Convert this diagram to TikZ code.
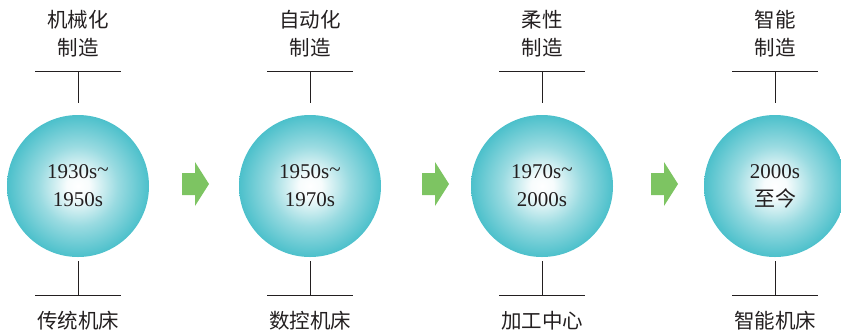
\documentclass[tikz,border=0pt]{standalone}
\usepackage{fontspec}
\setmainfont{Liberation Serif}
\newfontfamily\cjk{Noto Sans CJK SC}
\definecolor{tealedge}{HTML}{4CC0CB}
\definecolor{tealmid}{HTML}{9ADBE1}
\definecolor{arrowgreen}{HTML}{7DC462}
\definecolor{linegray}{HTML}{231F20}
\pgfdeclareradialshading{myball}{\pgfpoint{0bp}{0bp}}{color(0bp)=(white); color(4bp)=(white!92!tealmid); color(14bp)=(tealmid); color(25bp)=(tealedge); color(50bp)=(tealedge)}
\tikzset{
  ball/.style={circle, minimum size=142pt, inner sep=0pt, shading=myball, draw=none},
  yeartext/.style={font=\fontsize{21}{28}\selectfont, align=center, text=linegray},
  cjklabel/.style={font=\cjk\fontsize{20.5}{28}\selectfont, align=center, text=linegray, inner sep=0pt},
  tbar/.style={draw=linegray, line width=0.9pt},
  greenarrow/.style={fill=arrowgreen, draw=none}
}
\begin{document}
\begin{tikzpicture}[x=1pt,y=-1pt]
\useasboundingbox (0,0) rectangle (841,333);
% circles
\foreach \i/\cx/\txt in {1/78/{1930s\raisebox{0.25ex}{\textasciitilde}\\1950s},2/310/{1950s\raisebox{0.25ex}{\textasciitilde}\\1970s},3/542/{1970s\raisebox{0.25ex}{\textasciitilde}\\2000s},4/775/{2000s\\{\cjk 至今}}}{
  \node[ball] (c\i) at (\cx,186) {};
  \node[yeartext] (y\i) at (\cx,186) {\txt};
  \coordinate (tl\i) at (\cx-43,71);
  \coordinate (tr\i) at (\cx+43,71);
  \coordinate (tm\i) at (\cx,71);
  \coordinate (te\i) at (\cx,103);
  \coordinate (bl\i) at (\cx-43,295);
  \coordinate (br\i) at (\cx+43,295);
  \coordinate (bm\i) at (\cx,295);
  \coordinate (bs\i) at (\cx,261);
  \draw[tbar] (tl\i) -- (tr\i);
  \draw[tbar] (tm\i) -- (te\i);
  \draw[tbar] (bl\i) -- (br\i);
  \draw[tbar] (bm\i) -- (bs\i);
}
% top labels
\node[cjklabel] (t1) at (78,34) {机械化\\制造};
\node[cjklabel] (t2) at (310,34) {自动化\\制造};
\node[cjklabel] (t3) at (542,34) {柔性\\制造};
\node[cjklabel] (t4) at (775,34) {智能\\制造};
% bottom labels
\node[cjklabel] (b1) at (78,321) {传统机床};
\node[cjklabel] (b2) at (310,321) {数控机床};
\node[cjklabel] (b3) at (542,321) {加工中心};
\node[cjklabel] (b4) at (775,321) {智能机床};
% arrows
\foreach \j/\ax in {1/182,2/422,3/651}{
  \coordinate (a\j) at (\ax,184);
  \fill[greenarrow] (a\j) ++(0,-11) -- ++(13,0) -- ++(0,-11) -- ++(14,22) -- ++(-14,22) -- ++(0,-11) -- ++(-13,0) -- cycle;
}
\end{tikzpicture}
\end{document}
